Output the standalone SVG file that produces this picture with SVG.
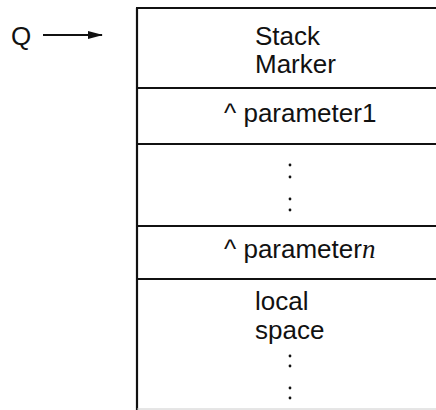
<svg xmlns="http://www.w3.org/2000/svg" width="436" height="410" viewBox="0 0 436 410">
<style>
.t{font-family:"Liberation Sans",Arial,Helvetica,sans-serif;font-size:26px;fill:#111}
.n{font-family:"Liberation Serif","Times New Roman",serif;font-style:italic;font-size:27px}
.ln{stroke:#111;stroke-width:2.2;fill:none}
.dot{fill:#111}
</style>
<defs>
<marker id="ah" markerWidth="16" markerHeight="8" refX="14" refY="4" orient="auto" markerUnits="userSpaceOnUse">
<path d="M0,0 L15,4 L0,8 Z" fill="#111"/>
</marker>
</defs>
<rect width="436" height="410" fill="#fff"/>
<g id="frame">
<line class="ln" x1="137" y1="8" x2="137" y2="410"/>
<line x1="137" y1="409" x2="436" y2="409" stroke="#ccc" stroke-width="1"/>
</g>
<g id="q-label">
<text class="t" x="11" y="45">Q</text>
</g>
<g id="connectors">
<line x1="43" y1="35" x2="102" y2="35" stroke="#111" stroke-width="2" marker-end="url(#ah)"/>
</g>
<g id="stack-marker">
<line class="ln" x1="136" y1="8" x2="436" y2="8"/>
<text class="t" x="255" y="45">Stack</text>
<text class="t" x="255" y="73">Marker</text>
</g>
<g id="parameter1">
<line class="ln" x1="136" y1="88" x2="436" y2="88"/>
<text class="t" x="224" y="122">^ parameter1</text>
</g>
<g id="ellipsis">
<line class="ln" x1="136" y1="144" x2="436" y2="144"/>
<circle class="dot" cx="290" cy="165" r="1.4"/>
<circle class="dot" cx="290" cy="177" r="1.4"/>
<circle class="dot" cx="290" cy="199" r="1.4"/>
<circle class="dot" cx="290" cy="210" r="1.4"/>
</g>
<g id="parametern">
<line class="ln" x1="136" y1="226" x2="436" y2="226"/>
<text class="t" x="224" y="258">^ parameter<tspan class="n">n</tspan></text>
</g>
<g id="local-space">
<line class="ln" x1="136" y1="279" x2="436" y2="279"/>
<text class="t" x="255" y="310">local</text>
<text class="t" x="255" y="339">space</text>
<circle class="dot" cx="290" cy="356" r="1.4"/>
<circle class="dot" cx="290" cy="366" r="1.4"/>
<circle class="dot" cx="290" cy="388" r="1.4"/>
<circle class="dot" cx="290" cy="398" r="1.4"/>
</g>
</svg>
